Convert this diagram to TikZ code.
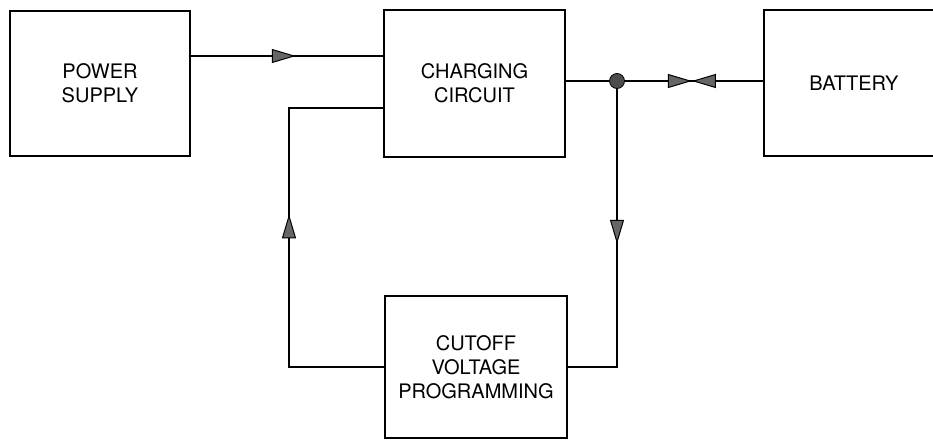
\documentclass[tikz,border=0pt]{standalone}
\usepackage{fontspec}
\setmainfont{TeX Gyre Heros}
\usetikzlibrary{arrows.meta,decorations.markings}
\tikzset{
  blk/.style={draw, line width=1.5pt, rectangle, align=center, font=\fontsize{20}{24}\selectfont, inner sep=0pt},
  wire/.style={line width=1.5pt},
  ftri/.tip={Triangle[length=24pt,width=14pt,fill=black!60,line width=1pt]},
  markat/.style={postaction={decorate,decoration={markings,mark=at position #1 with {\arrow{ftri}}}}},
  twomark/.style={postaction={decorate,decoration={markings,mark=at position #1 with {\arrow{ftri}\arrowreversed{ftri}}}}}
}
\begin{document}
\begin{tikzpicture}[x=1pt,y=1pt]
\useasboundingbox (0,0) rectangle (933,-439);
\node[blk, minimum width=180pt, minimum height=145pt] (ps) at (100,-83.5) {POWER\\SUPPLY};
\node[blk, minimum width=181pt, minimum height=147pt] (cc) at (474.5,-83.5) {CHARGING\\CIRCUIT};
\node[blk, minimum width=180pt, minimum height=146pt] (bat) at (854,-83) {BATTERY};
\node[blk, minimum width=182pt, minimum height=142pt] (cv) at (476,-367) {CUTOFF\\VOLTAGE\\PROGRAMMING};
\node[circle, fill=black!70, draw=black, line width=0.8pt, minimum size=15pt, inner sep=0pt] (dot) at (617,-81) {};
\coordinate (fbl) at (289,-108);
\draw[wire, markat=105pt] (ps.east |- 0,-56) -- (cc.west |- 0,-56);
\draw[wire, markat=248pt] (cv.west) -| (fbl) -- (cc.west |- fbl);
\draw[wire] (cc.east |- dot) -- (dot);
\draw[wire, twomark=67pt] (dot) -- (bat.west |- dot);
\draw[wire, markat=155pt] (dot) |- (cv.east);
\end{tikzpicture}
\end{document}
